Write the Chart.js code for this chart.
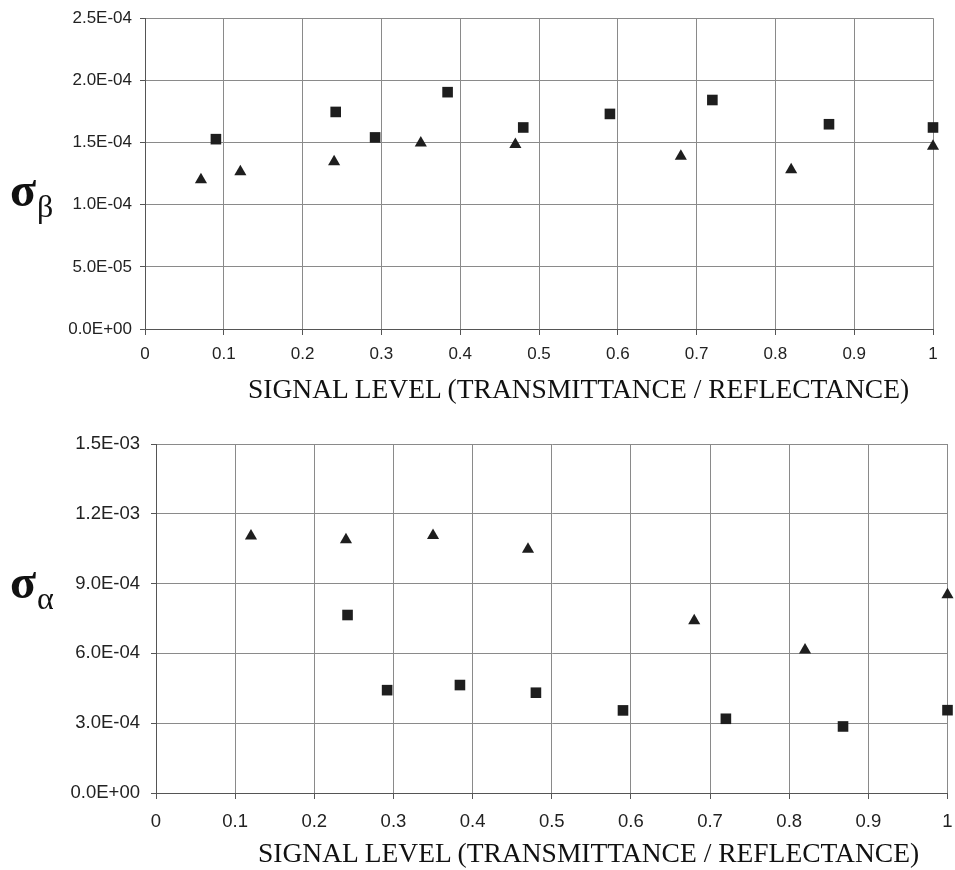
<!DOCTYPE html>
<html>
<head>
<meta charset="utf-8">
<script src="https://cdn.jsdelivr.net/npm/chart.js@4"></script>
<style>
  body { margin: 0; background: #fff; width: 955px; height: 870px; position: relative; overflow: hidden; }
  .box { position: absolute; left: 0; width: 955px; }
  .sig { position: absolute; left: 10px; font-family: "Liberation Serif", serif; font-size: 48px; font-weight: bold; color: #111; line-height: 1; }
  .sig sub { font-size: 32px; font-weight: normal; vertical-align: -11px; margin-left: 1px; }
  .xt { position: absolute; font-family: "Liberation Serif", serif; font-size: 27.5px; color: #111; white-space: nowrap; line-height: 1; }
</style>
</head>
<body>
<div class="box" style="top:0;height:415px"><canvas id="betaChart" width="955" height="415"></canvas></div>
<div class="box" style="top:415px;height:455px"><canvas id="alphaChart" width="955" height="455"></canvas></div>

<div class="sig" style="top:166px">σ<sub>β</sub></div>
<div class="sig" style="top:558px">σ<sub>α</sub></div>
<div class="xt" style="left:248px;top:375px">SIGNAL LEVEL (TRANSMITTANCE / REFLECTANCE)</div>
<div class="xt" style="left:258px;top:839px">SIGNAL LEVEL (TRANSMITTANCE / REFLECTANCE)</div>

<script>
// --- data ---
const betaSquareX = [0.09, 0.242, 0.292, 0.384, 0.48, 0.59, 0.72, 0.868, 1.0];
const betaSquareY = [1.527e-4, 1.746e-4, 1.541e-4, 1.905e-4, 1.621e-4, 1.730e-4, 1.842e-4, 1.647e-4, 1.621e-4];
const betaTriX = [0.071, 0.121, 0.24, 0.35, 0.47, 0.68, 0.82, 1.0];
const betaTriY = [1.20e-4, 1.265e-4, 1.345e-4, 1.497e-4, 1.484e-4, 1.39e-4, 1.28e-4, 1.47e-4];

const alphaSquareX = [0.242, 0.292, 0.384, 0.48, 0.59, 0.72, 0.868, 1.0];
const alphaSquareY = [7.65e-4, 4.42e-4, 4.64e-4, 4.31e-4, 3.55e-4, 3.19e-4, 2.86e-4, 3.56e-4];
const alphaTriX = [0.12, 0.24, 0.35, 0.47, 0.68, 0.82, 1.0];
const alphaTriY = [1.105e-3, 1.088e-3, 1.107e-3, 1.048e-3, 7.40e-4, 6.15e-4, 8.52e-4];

const xTicks = [0, 0.1, 0.2, 0.3, 0.4, 0.5, 0.6, 0.7, 0.8, 0.9, 1];
const betaTicks = [0, 5e-5, 1e-4, 1.5e-4, 2e-4, 2.5e-4];
const alphaTicks = [0, 3e-4, 6e-4, 9e-4, 1.2e-3, 1.5e-3];

// --- helpers ---
function sci(v) {
    const parts = v.toExponential(1).split('e');
    const n = parseInt(parts[1], 10);
    return parts[0] + 'E' + (n < 0 ? '-' : '+') + String(Math.abs(n)).padStart(2, '0');
}

function toPoints(xs, ys) {
    return xs.map((x, i) => ({ x: x, y: ys[i] }));
}

const ink = '#1e1e1e';
const gridColor = '#8a8a8a';

function makeChart(id, opts) {
    const tickFont = { family: 'Liberation Sans', size: opts.fontSize };
    return new Chart(document.getElementById(id), {
        type: 'scatter',
        data: {
            datasets: [{
                data: toPoints(opts.sqX, opts.sqY),
                pointStyle: 'rect',
                pointRadius: 7.5,
                pointHoverRadius: 7.5,
                backgroundColor: ink,
                borderColor: ink,
                borderWidth: 0,
                clip: false
            }, {
                data: toPoints(opts.triX, opts.triY),
                pointStyle: 'triangle',
                pointRadius: 7,
                pointHoverRadius: 7,
                backgroundColor: ink,
                borderColor: ink,
                borderWidth: 0,
                clip: false
            }]
        },
        options: {
            responsive: false,
            animation: false,
            layout: { padding: { top: opts.padTop, right: opts.padRight, left: 0, bottom: 0 } },
            plugins: { legend: { display: false }, tooltip: { enabled: false } },
            scales: {
                x: {
                    type: 'linear',
                    min: 0,
                    max: 1,
                    afterBuildTicks: (s) => { s.ticks = xTicks.map(v => ({ value: v })); },
                    afterFit: (s) => {
                        s.height = opts.xHeight;
                        s.paddingRight = 0;
                        s.paddingLeft = 0;
                    },
                    grid: { color: gridColor, tickColor: '#555', tickLength: 6 },
                    border: { color: '#555' },
                    ticks: {
                        color: '#222',
                        font: tickFont,
                        padding: opts.xPad,
                        callback: (v) => String(Number(v.toFixed(1)))
                    }
                },
                y: {
                    min: 0,
                    max: opts.yMax,
                    afterBuildTicks: (s) => { s.ticks = opts.yTicks.map(v => ({ value: v })); },
                    afterFit: (s) => { s.width = opts.yWidth; },
                    grid: { color: gridColor, tickColor: '#555', tickLength: 5 },
                    border: { color: '#555' },
                    ticks: {
                        color: '#222',
                        font: tickFont,
                        padding: opts.yPad,
                        callback: (v) => sci(v)
                    }
                }
            }
        }
    });
}

makeChart('betaChart', {
    sqX: betaSquareX, sqY: betaSquareY, triX: betaTriX, triY: betaTriY,
    yMax: 2.5e-4, yTicks: betaTicks, fontSize: 17,
    padTop: 16, padRight: 22, xHeight: 86, yWidth: 145, xPad: 9, yPad: 8
});

makeChart('alphaChart', {
    sqX: alphaSquareX, sqY: alphaSquareY, triX: alphaTriX, triY: alphaTriY,
    yMax: 1.5e-3, yTicks: alphaTicks, fontSize: 18.5,
    padTop: 29, padRight: 2, xHeight: 77, yWidth: 156, xPad: 12, yPad: 11
});
</script>
</body>
</html>
